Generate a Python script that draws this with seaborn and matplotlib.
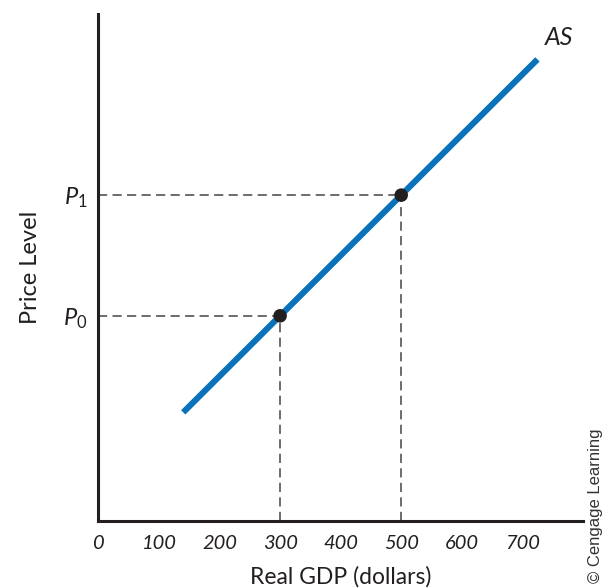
import numpy as np
import pandas as pd
import matplotlib
matplotlib.use("Agg")
import matplotlib.pyplot as plt
import seaborn as sns

# data
as_gdp = [140, 725]
as_price = [180, 765]
point_gdp = [300, 500]
point_price = [340, 540]
price_labels = ["$P_0$", "$P_1$"]
x_ticks = [0, 100, 200, 300, 400, 500, 600, 700]

sns.set_theme(style="white")
plt.rcParams["font.family"] = ["Lato", "DejaVu Sans"]
plt.rcParams["mathtext.fontset"] = "custom"
plt.rcParams["mathtext.it"] = "Lato:italic"
plt.rcParams["mathtext.rm"] = "Lato"

ink = "#231f20"
fig = plt.figure(figsize=(6.04, 5.88), dpi=100)
ax = fig.add_axes([0.163, 0.114, 0.802, 0.862])

curve = pd.DataFrame({"gdp": as_gdp, "price": as_price})
pts = pd.DataFrame({"gdp": point_gdp, "price": point_price})

# dashed guides
for gx, py in zip(point_gdp, point_price):
    ax.plot([0, gx], [py, py], ls=(0, (6, 3.5)), color="#444444", lw=1.1, zorder=1)
    ax.plot([gx, gx], [0, py], ls=(0, (6, 3.5)), color="#444444", lw=1.1, zorder=1)

sns.lineplot(data=curve, x="gdp", y="price", ax=ax, color="#0a72ba", lw=4.4,
             solid_capstyle="butt", zorder=2)
sns.scatterplot(data=pts, x="gdp", y="price", ax=ax, color=ink, s=95,
                edgecolor="none", zorder=3)

ax.text(760, 802, "AS", fontsize=18, style="italic", color=ink, ha="center", va="center")

ax.set_xlim(0, 800)
ax.set_ylim(0, 840)
ax.set_xticks(x_ticks)
ax.set_xticklabels([str(t) for t in x_ticks], fontsize=14.5, style="italic", color=ink)
ax.set_yticks(point_price)
ax.set_yticklabels(price_labels, fontsize=17, color=ink)
ax.tick_params(axis="x", direction="in", length=11, width=1.2, color=ink, pad=10)
ax.tick_params(axis="y", length=0, pad=8)

ax.set_xlabel("Real GDP (dollars)", fontsize=16.5, color=ink, labelpad=10)
ax.set_ylabel("Price Level", fontsize=17, color=ink, labelpad=16)

for side in ["top", "right"]:
    ax.spines[side].set_visible(False)
for side in ["left", "bottom"]:
    ax.spines[side].set_linewidth(2.2)
    ax.spines[side].set_color(ink)

fig.text(0.986, 0.008, "\u00a9 Cengage Learning", rotation=90, fontsize=12,
         family=["Liberation Sans", "DejaVu Sans"], color="#333333",
         ha="center", va="bottom")

fig.savefig("out.png", dpi=100)
